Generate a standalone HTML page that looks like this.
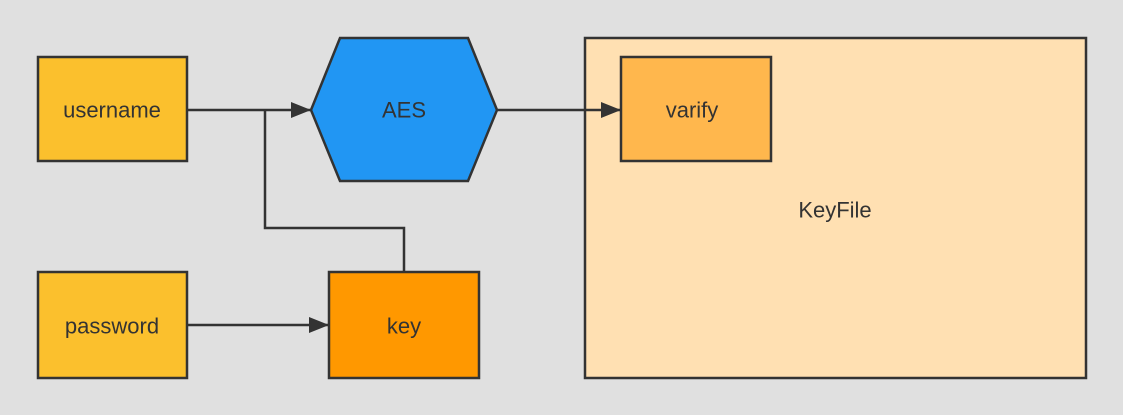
<!DOCTYPE html>
<html><head><meta charset="utf-8"><style>
html,body{margin:0;padding:0;background:#e0e0e0;}
svg{display:block}
text{font-family:"Liberation Sans","DejaVu Sans",sans-serif;font-size:22px;fill:#333;text-anchor:middle;dominant-baseline:central}
</style></head><body>
<svg width="1123" height="415" viewBox="0 0 1123 415">
<defs><marker id="a" markerWidth="10" markerHeight="10" refX="9" refY="5" orient="auto" markerUnits="userSpaceOnUse"><path d="M0,0 L20,5 L0,10 z" fill="#333" transform="scale(1)"/></marker>
<marker id="ar" viewBox="0 0 20 16" markerWidth="20" markerHeight="16" refX="20" refY="8" orient="auto" markerUnits="userSpaceOnUse"><path d="M0,0 L20,8 L0,16 z" fill="#333"/></marker></defs>
<rect width="1123" height="415" fill="#e0e0e0"/>
<rect x="585" y="38" width="501" height="340" fill="#ffe0b2" stroke="#333" stroke-width="2.5"/>
<text x="835" y="210">KeyFile</text>
<rect x="621" y="57" width="150" height="104" fill="#ffb74d" stroke="#333" stroke-width="2.5"/>
<text x="692" y="110">varify</text>
<rect x="38" y="57" width="149" height="104" fill="#fbc02d" stroke="#333" stroke-width="2.5"/>
<text x="112" y="110">username</text>
<rect x="38" y="272" width="149" height="106" fill="#fbc02d" stroke="#333" stroke-width="2.5"/>
<text x="112" y="326">password</text>
<rect x="329" y="272" width="150" height="106" fill="#ff9800" stroke="#333" stroke-width="2.5"/>
<text x="404" y="326">key</text>
<polygon points="340,38 468,38 497,110 468,181 340,181 311,110" fill="#2196f3" stroke="#333" stroke-width="2.5"/>
<text x="404" y="110">AES</text>
<g stroke="#333" stroke-width="2.5" fill="none">
<line x1="187" y1="110" x2="311" y2="110" marker-end="url(#ar)"/>
<polyline points="404,272 404,228 265,228 265,110"/>
<line x1="187" y1="325" x2="329" y2="325" marker-end="url(#ar)"/>
<line x1="497" y1="110" x2="621" y2="110" marker-end="url(#ar)"/>
</g>
</svg>
</body></html>
